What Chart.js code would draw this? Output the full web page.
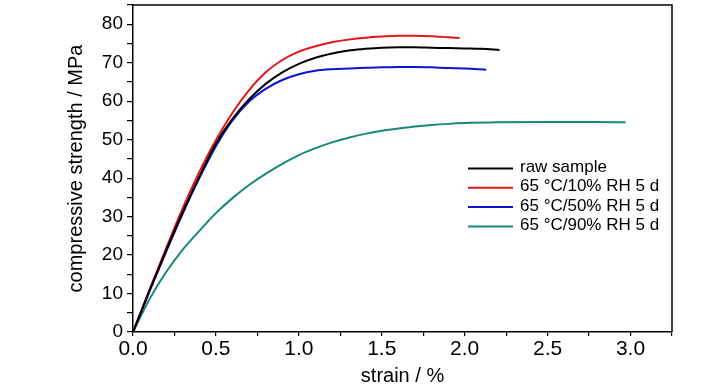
<!DOCTYPE html>
<html>
<head>
<meta charset="utf-8">
<script src="https://cdn.jsdelivr.net/npm/chart.js@4.4.1/dist/chart.umd.min.js"></script>
<style>
  html, body { margin: 0; padding: 0; background: #fff; }
  #wrap { width: 728px; height: 390px; }
</style>
</head>
<body>
<div id="wrap"><canvas id="chart" width="728" height="390"></canvas></div>
<script>
// strain (%) / compressive strength (MPa)
const seriesLabels = ['raw sample', '65 °C/10% RH 5 d', '65 °C/50% RH 5 d', '65 °C/90% RH 5 d'];
const seriesColors = ['#000000', '#e4141b', '#1212d4', '#168a78'];

const strainRaw = [0, 0.1, 0.2, 0.3, 0.4, 0.5, 0.6, 0.7, 0.8, 0.9, 1.0, 1.1, 1.2, 1.3, 1.4, 1.5, 1.6, 1.7, 1.8, 1.9, 2.0, 2.1, 2.21];
const stressRaw = [0, 10.8, 21.2, 31.2, 40.4, 49.0, 55.4, 60.5, 64.5, 67.5, 69.7, 71.3, 72.4, 73.2, 73.6, 73.9, 74.0, 74.0, 73.9, 73.8, 73.7, 73.6, 73.3];

const strain10 = [0, 0.1, 0.2, 0.3, 0.4, 0.5, 0.6, 0.7, 0.8, 0.9, 1.0, 1.1, 1.2, 1.3, 1.4, 1.5, 1.6, 1.7, 1.8, 1.9, 1.97];
const stress10 = [0, 11.0, 21.8, 32.2, 41.6, 49.9, 57.0, 62.9, 67.5, 70.7, 72.9, 74.3, 75.3, 76.0, 76.5, 76.8, 77.0, 77.0, 76.9, 76.6, 76.4];

const strain50 = [0, 0.1, 0.2, 0.3, 0.4, 0.5, 0.6, 0.7, 0.8, 0.9, 1.0, 1.1, 1.2, 1.3, 1.4, 1.5, 1.6, 1.7, 1.8, 1.9, 2.0, 2.13];
const stress50 = [0, 10.6, 20.9, 30.8, 40.0, 48.3, 55.0, 59.9, 63.2, 65.5, 67.0, 67.9, 68.3, 68.5, 68.7, 68.8, 68.9, 68.9, 68.8, 68.6, 68.5, 68.2];

const strain90 = [0, 0.1, 0.2, 0.3, 0.4, 0.5, 0.6, 0.7, 0.8, 0.9, 1.0, 1.1, 1.2, 1.3, 1.4, 1.5, 1.6, 1.7, 1.8, 1.9, 2.0, 2.2, 2.5, 2.8, 2.97];
const stress90 = [0, 8.6, 15.6, 21.4, 26.3, 30.9, 34.8, 38.2, 41.1, 43.7, 46.0, 47.8, 49.3, 50.5, 51.5, 52.3, 52.9, 53.4, 53.8, 54.1, 54.3, 54.5, 54.6, 54.6, 54.5];

const strains = [strainRaw, strain10, strain50, strain90];
const stresses = [stressRaw, stress10, stress50, stress90];

const xTickValues = [0, 0.5, 1.0, 1.5, 2.0, 2.5, 3.0];

function toPoints(xs, ys) {
    return xs.map((x, i) => ({ x, y: ys[i] }));
}

// Frame on top and right side of the plot area
const framePlugin = {
    id: 'frame',
    afterDatasetsDraw(chart) {
        const { ctx, chartArea: a } = chart;
        ctx.save();
        ctx.strokeStyle = '#000';
        ctx.lineWidth = 1.5;
        ctx.beginPath();
        ctx.moveTo(a.left, a.top);
        ctx.lineTo(a.right, a.top);
        ctx.lineTo(a.right, a.bottom);
        ctx.stroke();
        ctx.restore();
    }
};

// Legend inside the plot, built from the datasets
const insideLegend = {
    id: 'insideLegend',
    afterDraw(chart) {
        const { ctx, chartArea: a } = chart;
        const x0 = a.left + 335;
        const y0 = a.top + 163.5;
        const step = 19.3;
        ctx.save();
        ctx.font = '17px "Liberation Sans", Arial, sans-serif';
        ctx.textBaseline = 'middle';
        ctx.fillStyle = '#000';
        chart.data.datasets.forEach((ds, i) => {
            const y = y0 + i * step;
            ctx.strokeStyle = ds.borderColor;
            ctx.lineWidth = 2;
            ctx.beginPath();
            ctx.moveTo(x0, y);
            ctx.lineTo(x0 + 45, y);
            ctx.stroke();
            ctx.fillText(ds.label, x0 + 52, y - 1);
        });
        ctx.restore();
    }
};

const datasets = seriesLabels.map((label, i) => ({
    label,
    data: toPoints(strains[i], stresses[i]),
    borderColor: seriesColors[i],
    backgroundColor: seriesColors[i],
    borderWidth: 2,
    pointRadius: 0,
    showLine: true,
    fill: false,
    cubicInterpolationMode: 'monotone',
}));

new Chart(document.getElementById('chart'), {
    type: 'scatter',
    data: { datasets },
    options: {
        responsive: false,
        animation: false,
        layout: { padding: { left: 0, right: 56, top: 5, bottom: 0 } },
        plugins: {
            legend: { display: false },
            tooltip: { enabled: false },
        },
        scales: {
            x: {
                type: 'linear',
                min: 0,
                max: 3.25,
                border: { display: true, color: '#000', width: 1.5 },
                grid: { drawOnChartArea: false, drawTicks: true, tickLength: 4, color: '#000', lineWidth: 1.2 },
                ticks: {
                    stepSize: 0.25,
                    autoSkip: false,
                    maxRotation: 0,
                    padding: 1,
                    color: '#000',
                    font: { family: '"Liberation Sans Narrow", "Arial Narrow", "Liberation Sans", sans-serif', size: 21 },
                    callback: v => xTickValues.some(t => Math.abs(t - v) < 1e-9) ? v.toFixed(1) : '',
                },
                title: {
                    display: true,
                    text: 'strain / %',
                    color: '#000',
                    font: { family: '"Liberation Sans", Arial, sans-serif', size: 20 },
                    padding: { top: 0, bottom: 2 },
                },
                afterFit: scale => {
                    scale.height = 58;
                    scale.paddingLeft = 0;
                    scale.paddingRight = 0;
                },
            },
            y: {
                type: 'linear',
                min: 0,
                max: 85,
                border: { display: true, color: '#000', width: 1.5 },
                grid: { drawOnChartArea: false, drawTicks: true, tickLength: 6, color: '#000', lineWidth: 1.2 },
                ticks: {
                    stepSize: 5,
                    autoSkip: false,
                    padding: 4,
                    color: '#000',
                    font: { family: '"Liberation Sans", Arial, sans-serif', size: 19 },
                    callback: v => (v % 10 === 0 ? String(v) : ''),
                },
                title: {
                    display: true,
                    text: 'compressive strength / MPa',
                    color: '#000',
                    font: { family: '"Liberation Sans", Arial, sans-serif', size: 20 },
                    padding: { top: 64, bottom: 0 },
                },
                afterFit: scale => {
                    scale.width = 133;
                    scale.paddingTop = 0;
                    scale.paddingBottom = 0;
                },
            },
        },
    },
    plugins: [framePlugin, insideLegend],
});
</script>
</body>
</html>
